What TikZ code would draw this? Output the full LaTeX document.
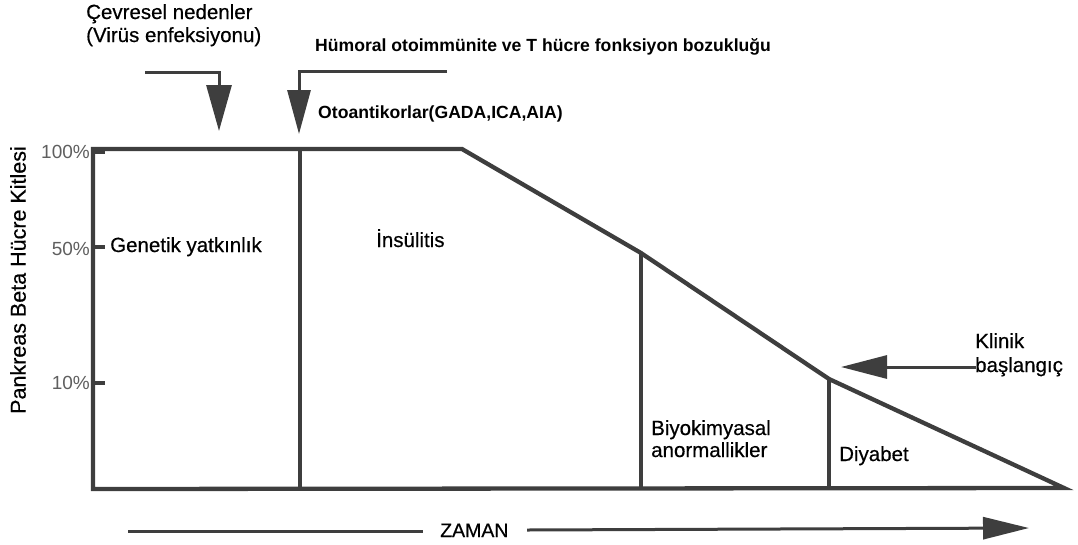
\documentclass[tikz,border=0pt]{standalone}
\usepackage{fontspec}
\setmainfont{Liberation Sans}
\newfontfamily\medfont[FakeBold=0.5]{Liberation Sans}
\usetikzlibrary{arrows.meta}
\definecolor{ln}{RGB}{62,62,62}
\definecolor{pct}{RGB}{95,95,95}
\tikzset{
  lbl/.style={inner sep=0pt, anchor=base west, font=\medfont\fontsize{20.5}{24}\selectfont},
  blbl/.style={inner sep=0pt, anchor=base west, font=\bfseries\fontsize{17.6}{21}\selectfont},
  pctlbl/.style={inner sep=0pt, anchor=base east, text=pct, font=\fontsize{19}{22}\selectfont},
  mainline/.style={draw=ln, line width=4.3pt},
  arr/.style={draw=ln, line width=3pt},
}
\begin{document}
\begin{tikzpicture}[x=1pt,y=-1pt]
\useasboundingbox (0,0) rectangle (1078,544);
% main chart outline
\coordinate (tl) at (93,149);
\coordinate (bend) at (462,149);
\coordinate (p50) at (641,253);
\coordinate (p10) at (829,379);
\coordinate (tip) at (1064,488);
\coordinate (bl) at (93,489);
\draw[mainline] (tl) -- (bend) -- (p50) -- (p10) -- (tip) -- (bl) -- cycle;
% vertical dividers
\coordinate (v1t) at (300,149);
\coordinate (v1b) at (300,489);
\coordinate (v2b) at (641,489);
\coordinate (v3b) at (829,489);
\draw[mainline] (v1t) -- (v1b);
\draw[mainline] (p50) -- (v2b);
\draw[mainline] (p10) -- (v3b);
% ticks
\coordinate (t100a) at (93,152); \coordinate (t100b) at (105,152);
\coordinate (t50a) at (93,247); \coordinate (t50b) at (105,247);
\coordinate (t10a) at (93,383); \coordinate (t10b) at (105,383);
\draw[draw=ln, line width=4pt] (t100a) -- (t100b);
\draw[draw=ln, line width=4pt] (t50a) -- (t50b);
\draw[draw=ln, line width=4pt] (t10a) -- (t10b);
% percentage labels
\node[pctlbl] (l100) at (90,158) {100\%};
\node[pctlbl] (l50) at (90,255) {50\%};
\node[pctlbl] (l10) at (90,389) {10\%};
% axis label
\node[inner sep=0pt, rotate=90, font=\medfont\fontsize{21.5}{24}\selectfont] (ylab) at (18,280) {Pankreas Beta Hücre Kitlesi};
% region labels
\node[lbl] (gen) at (110,252) {Genetik yatkınlık};
\node[lbl] (ins) at (376,247) {İnsülitis};
\node[lbl] (bio1) at (651,435) {Biyokimyasal};
\node[lbl] (bio2) at (651,457) {anormallikler};
\node[lbl] (diy) at (839,461) {Diyabet};
% top texts
\node[lbl] (cev1) at (86,19) {Çevresel nedenler};
\node[lbl] (cev2) at (86,42) {(Virüs enfeksiyonu)};
\node[blbl] (hum) at (315,51) {Hümoral otoimmünite ve T hücre fonksiyon bozukluğu};
\node[blbl] (oto) at (318,118) {Otoantikorlar(GADA,ICA,AIA)};
% arrow 1
\coordinate (a1s) at (145,72);
\coordinate (a1c) at (219,72);
\coordinate (a1t) at (219,131);
\draw[arr, -{Triangle[length=46pt,width=25pt]}] (a1s) -- (a1c) -- (a1t);
% arrow 2
\coordinate (a2s) at (447,71);
\coordinate (a2c) at (299,71);
\coordinate (a2t) at (299,134);
\draw[arr, -{Triangle[length=44pt,width=23pt]}] (a2s) -- (a2c) -- (a2t);
% klinik baslangic
\node[lbl] (kl1) at (975,348) {Klinik};
\node[lbl] (kl2) at (975,372) {başlangıç};
\coordinate (k1s) at (976,367);
\coordinate (k1t) at (841,367);
\draw[arr, -{Triangle[length=46pt,width=23pt]}] (k1s) -- (k1t);
% ZAMAN arrow
\node[lbl, font=\medfont\fontsize{19.5}{22}\selectfont] (zam) at (440,537) {ZAMAN};
\coordinate (z1s) at (128,531);
\coordinate (z1e) at (423,531);
\coordinate (z2s) at (527,530);
\coordinate (z2t) at (1029,528);
\draw[draw=ln, line width=3pt] (z1s) -- (z1e);
\draw[arr, -{Triangle[length=46pt,width=22pt]}] (z2s) -- (z2t);
\end{tikzpicture}
\end{document}
